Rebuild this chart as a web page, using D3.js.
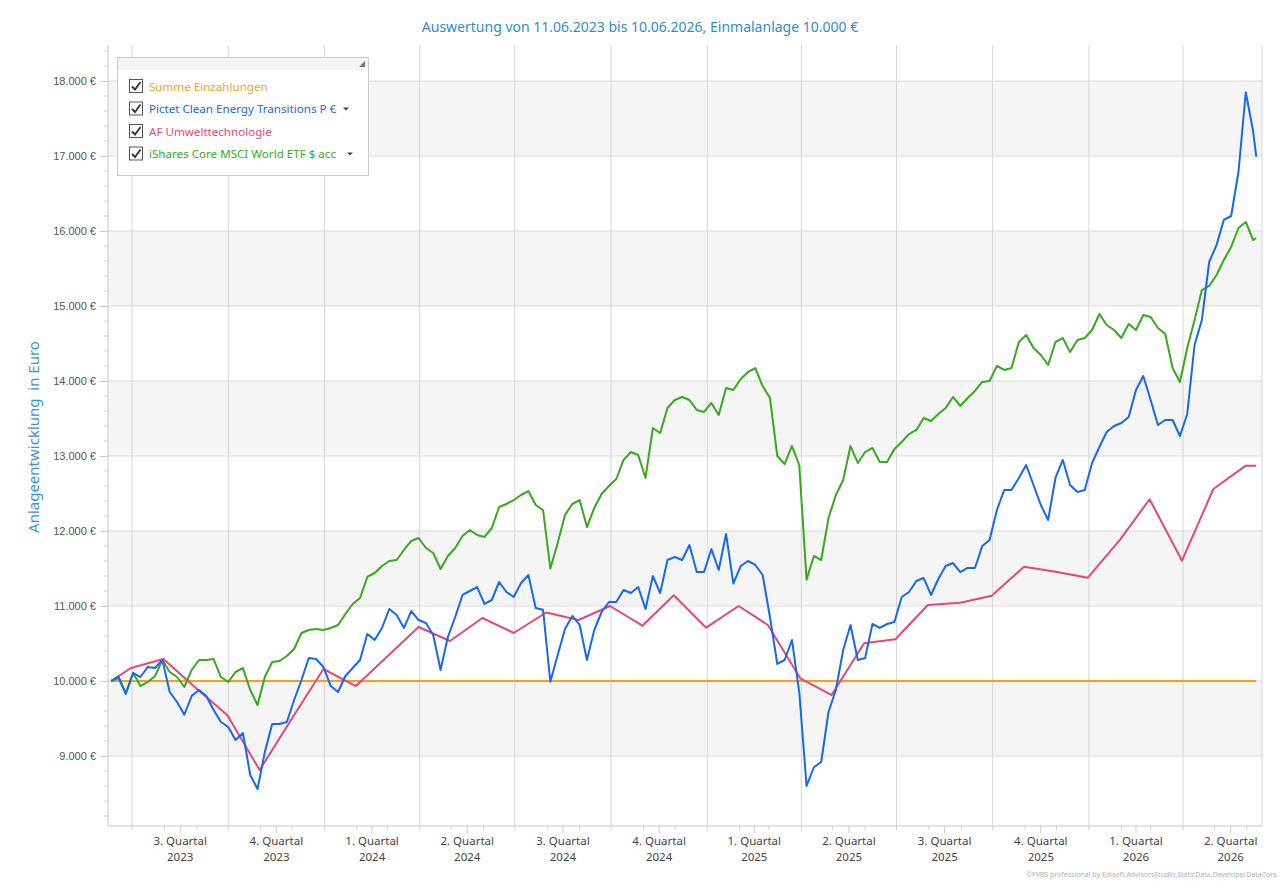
<!DOCTYPE html>
<html lang="de">
<head>
<meta charset="UTF-8">
<title>Anlageentwicklung</title>
<script src="https://d3js.org/d3.v7.min.js"></script>
<style>
  body { margin: 0; background: #fff; }
  svg { display: block; font-family: "Noto Sans", "Open Sans", sans-serif; }
</style>
</head>
<body>
<script>
// ---- data ----
const startDate = "11.06.2023";
const endDate = "10.06.2026";

// Summe Einzahlungen: flat line at the single deposit
const depositDates = ["11.06.2023", "10.06.2026"];
const depositValues = [10000, 10000];

// AF Umwelttechnologie: month-end values
const afDates = ["11.06.2023", "30.06.2023", "31.07.2023", "31.08.2023", "30.09.2023", "31.10.2023",
  "30.11.2023", "31.12.2023", "31.01.2024", "29.02.2024", "31.03.2024", "30.04.2024", "31.05.2024",
  "30.06.2024", "31.07.2024", "31.08.2024", "30.09.2024", "31.10.2024", "30.11.2024", "31.12.2024",
  "31.01.2025", "28.02.2025", "31.03.2025", "30.04.2025", "31.05.2025", "30.06.2025", "31.07.2025",
  "31.08.2025", "30.09.2025", "31.10.2025", "30.11.2025", "31.12.2025", "31.01.2026", "28.02.2026",
  "31.03.2026", "30.04.2026", "31.05.2026", "10.06.2026"];
const afValues = [10000, 10173, 10293, 9907, 9547, 8813,
  9480, 10160, 9933, 10312, 10720, 10533, 10840,
  10640, 10913, 10813, 11000, 10737, 11143, 10711,
  11000, 10747, 10036, 9813, 10503, 10556, 11013,
  11044, 11137, 11524, 11457, 11377, 11889, 12423,
  11604, 12560, 12871, 12871];

// Pictet Clean Energy Transitions P €: weekly values, last one on the end date
const pictetValues = [
  10000, 10060, 9827, 10107, 10053, 10187, 10173, 10280, 9853, 9720,
  9550, 9800, 9880, 9800, 9613, 9453, 9387, 9213, 9307, 8747,
  8560, 9053, 9427, 9427, 9453, 9747, 10013, 10307, 10293, 10187,
  9933, 9853, 10067, 10173, 10280, 10627, 10547, 10707, 10960, 10880,
  10707, 10933, 10813, 10773, 10613, 10147, 10587, 10853, 11147, 11200,
  11253, 11027, 11080, 11320, 11187, 11120, 11307, 11413, 10973, 10950,
  9990, 10347, 10693, 10867, 10747, 10280, 10680, 10920, 11053, 11053,
  11213, 11173, 11253, 10960, 11400, 11173, 11613, 11653, 11613, 11813,
  11453, 11453, 11760, 11480, 11960, 11300, 11533, 11600, 11547, 11413,
  10853, 10227, 10280, 10547, 9853, 8600, 8850, 8920, 9587, 9880,
  10413, 10747, 10280, 10307, 10760, 10707, 10760, 10787, 11120, 11187,
  11333, 11373, 11147, 11360, 11533, 11573, 11453, 11507, 11507, 11800,
  11880, 12280, 12547, 12547, 12707, 12880, 12613, 12347, 12147, 12707,
  12947, 12613, 12520, 12547, 12907, 13120, 13320, 13400, 13440, 13520,
  13880, 14067, 13747, 13413, 13480, 13480, 13267, 13560, 14480, 14813,
  15587, 15813, 16147, 16200, 16787, 17850, 17330,
  16990];

// iShares Core MSCI World ETF $ acc: weekly values, last one on the end date
const isharesValues = [
  10000, 10040, 9840, 10107, 9933, 9987, 10067, 10280, 10120, 10053,
  9920, 10147, 10280, 10280, 10293, 10053, 9987, 10120, 10173, 9880,
  9680, 10053, 10253, 10267, 10333, 10427, 10640, 10680, 10693, 10680,
  10707, 10747, 10893, 11027, 11107, 11387, 11440, 11533, 11600, 11613,
  11747, 11867, 11907, 11773, 11707, 11493, 11667, 11773, 11933, 12013,
  11947, 11920, 12040, 12320, 12360, 12413, 12480, 12533, 12347, 12280,
  11500, 11840, 12213, 12360, 12413, 12053, 12307, 12493, 12600, 12693,
  12947, 13053, 13013, 12707, 13373, 13307, 13640, 13747, 13787, 13747,
  13613, 13587, 13707, 13547, 13907, 13880, 14027, 14120, 14173, 13933,
  13773, 13000, 12893, 13133, 12880, 11350, 11667, 11613, 12173, 12480,
  12680, 13133, 12907, 13053, 13107, 12920, 12920, 13093, 13187, 13293,
  13347, 13507, 13467, 13560, 13640, 13787, 13667, 13773, 13867, 13987,
  14000, 14200, 14147, 14173, 14520, 14613, 14440, 14347, 14213, 14520,
  14573, 14387, 14547, 14573, 14680, 14893, 14747, 14680, 14573, 14760,
  14680, 14880, 14853, 14707, 14627, 14173, 13987, 14440, 14813, 15213,
  15267, 15413, 15613, 15787, 16040, 16120, 15880,
  15907];

const yTickValues = [9000, 10000, 11000, 12000, 13000, 14000, 15000, 16000, 17000, 18000];

const seriesNames = ["Summe Einzahlungen", "Pictet Clean Energy Transitions P €",
  "AF Umwelttechnologie", "iShares Core MSCI World ETF $ acc"];
const seriesColors = ["#f7a11a", "#1767f5", "#e8457c", "#37a91c"];
const dropdownX = [null, 229, null, 233];

// ---- setup ----
const width = 1280, height = 881;
const plot = { left: 108, right: 1262, top: 45, bottom: 826 };
const parse = d3.timeParse("%d.%m.%Y");
const de = d3.formatLocale({ decimal: ",", thousands: ".", grouping: [3], currency: ["", " €"] });
const fmt = de.format(",.0f");

// weekly dates from the start, the last value sits on the end date
const weekDates = d3.range(pictetValues.length - 1).map(i => d3.timeDay.offset(parse(startDate), 7 * i));
weekDates.push(parse(endDate));

const svg = d3.select("body").append("svg")
  .attr("width", width)
  .attr("height", height);

const x = d3.scaleTime()
  .domain([new Date(2023, 5, 8), new Date(2026, 5, 15, 12)])
  .range([plot.left, plot.right]);

const y = d3.scaleLinear()
  .domain([10000 - (plot.bottom - 681) / 0.075, 10000 + (681 - plot.top) / 0.075])
  .range([plot.bottom, plot.top]);

// alternating bands
svg.append("g").selectAll("rect")
  .data([9000, 11000, 13000, 15000, 17000])
  .join("rect")
  .attr("x", plot.left)
  .attr("width", plot.right - plot.left)
  .attr("y", d => y(d + 1000))
  .attr("height", d => y(d) - y(d + 1000))
  .attr("fill", "#f5f5f5");

// horizontal grid
svg.append("g").selectAll("line")
  .data(yTickValues)
  .join("line")
  .attr("x1", plot.left).attr("x2", plot.right)
  .attr("y1", d => y(d)).attr("y2", d => y(d))
  .attr("stroke", "#dadada");

// vertical grid at quarter starts
const quarterStarts = d3.timeMonth.every(3).range(new Date(2023, 6, 1), new Date(2026, 5, 15));
svg.append("g").selectAll("line")
  .data(quarterStarts)
  .join("line")
  .attr("x1", d => x(d)).attr("x2", d => x(d))
  .attr("y1", plot.top).attr("y2", plot.bottom)
  .attr("stroke", "#d6d6d6");

// right frame line
svg.append("line")
  .attr("x1", plot.right).attr("x2", plot.right)
  .attr("y1", plot.top).attr("y2", plot.bottom)
  .attr("stroke", "#d6d6d6");

// y axis
const yAxis = svg.append("g")
  .attr("transform", `translate(${plot.left},0)`)
  .call(d3.axisLeft(y).tickValues(yTickValues).tickSize(8).tickPadding(4)
    .tickFormat(d => fmt(d) + " €"));
yAxis.select(".domain").attr("stroke", "#c8c8c8").attr("d", `M0,${plot.top}V${plot.bottom}`);
yAxis.selectAll(".tick line").attr("stroke", "#c8c8c8");
yAxis.selectAll(".tick text").attr("fill", "#555").style("font-size", "11px");

svg.append("g").selectAll("line")
  .data(d3.range(8200, 18500, 200).filter(v => v % 1000 !== 0))
  .join("line")
  .attr("x1", plot.left - 4).attr("x2", plot.left)
  .attr("y1", d => y(d)).attr("y2", d => y(d))
  .attr("stroke", "#d0d0d0");

// x axis: month ticks + quarter label ticks
svg.append("line")
  .attr("x1", plot.left).attr("x2", plot.right)
  .attr("y1", plot.bottom).attr("y2", plot.bottom)
  .attr("stroke", "#c8c8c8");

svg.append("g").selectAll("line")
  .data(d3.timeMonth.range(new Date(2023, 5, 8), new Date(2026, 5, 15)))
  .join("line")
  .attr("x1", d => x(d)).attr("x2", d => x(d))
  .attr("y1", plot.bottom).attr("y2", plot.bottom + 4)
  .attr("stroke", "#d0d0d0");

const quarterMids = quarterStarts.map(d => new Date((+d + +d3.timeMonth.offset(d, 3)) / 2));
const xLabels = svg.append("g").selectAll("g")
  .data(quarterMids)
  .join("g")
  .attr("transform", d => `translate(${x(d)},${plot.bottom})`);
xLabels.append("line").attr("y2", 7).attr("stroke", "#c8c8c8");
xLabels.append("text")
  .attr("text-anchor", "middle")
  .attr("fill", "#444")
  .style("font-size", "11.5px")
  .selectAll("tspan")
  .data(d => [`${Math.floor(d.getMonth() / 3) + 1}. Quartal`, d.getFullYear()])
  .join("tspan")
  .attr("x", 0)
  .attr("y", (d, i) => 19 + i * 16)
  .text(d => d);

// lines
const line = d3.line()
  .x(d => x(d[0]))
  .y(d => y(d[1]));

const series = [
  { name: seriesNames[0], color: seriesColors[0], points: depositDates.map((d, i) => [parse(d), depositValues[i]]) },
  { name: seriesNames[2], color: seriesColors[2], points: afDates.map((d, i) => [parse(d), afValues[i]]) },
  { name: seriesNames[3], color: seriesColors[3], points: weekDates.map((d, i) => [d, isharesValues[i]]) },
  { name: seriesNames[1], color: seriesColors[1], points: weekDates.map((d, i) => [d, pictetValues[i]]) }
];

svg.append("g").selectAll("path")
  .data(series)
  .join("path")
  .attr("d", d => line(d.points))
  .attr("fill", "none")
  .attr("stroke", d => d.color)
  .attr("stroke-width", 2)
  .attr("stroke-linejoin", "round");

// title
svg.append("text")
  .attr("x", 640).attr("y", 32)
  .attr("text-anchor", "middle")
  .attr("fill", "#2f8bd6")
  .style("font-size", "14px")
  .text(`Auswertung von ${startDate} bis ${endDate}, Einmalanlage ${fmt(10000)} €`);

// y axis title
svg.append("text")
  .attr("transform", "translate(39,437) rotate(-90)")
  .attr("text-anchor", "middle")
  .attr("fill", "#3a92da")
  .style("font-size", "15px")
  .style("white-space", "pre")
  .text("Anlageentwicklung  in Euro");

// legend
const legend = svg.append("g").attr("transform", "translate(117,57)");
legend.append("rect")
  .attr("x", 0.5).attr("y", 0.5)
  .attr("width", 251).attr("height", 118)
  .attr("fill", "#fff")
  .attr("stroke", "#cbcbcb");
legend.append("rect")
  .attr("x", 1).attr("y", 1).attr("width", 250).attr("height", 12)
  .attr("fill", "#f4f4f4");
legend.append("path")
  .attr("d", "M248,4L248,10L242,10Z")
  .attr("fill", "#777");

const items = legend.selectAll(".item")
  .data(seriesNames)
  .join("g")
  .attr("class", "item")
  .attr("transform", (d, i) => `translate(0,${29 + i * 22.5})`);
items.append("rect")
  .attr("x", 12.5).attr("y", -6.5)
  .attr("width", 13).attr("height", 13)
  .attr("fill", "#fff")
  .attr("stroke", "#555");
items.append("path")
  .attr("d", "M15,0.5L18,3.5L23.5,-4")
  .attr("fill", "none")
  .attr("stroke", "#333")
  .attr("stroke-width", 1.8);
items.append("text")
  .attr("x", 32).attr("y", 4.5)
  .attr("fill", (d, i) => seriesColors[i])
  .style("font-size", "11.6px")
  .text(d => d);
items.filter((d, i) => dropdownX[i] !== null)
  .append("path")
  .attr("d", d => {
    const cx = dropdownX[seriesNames.indexOf(d)];
    return `M${cx - 3},-1L${cx + 3},-1L${cx},2Z`;
  })
  .attr("fill", "#444");

// credit line
svg.append("text")
  .attr("x", 1277).attr("y", 877)
  .attr("text-anchor", "end")
  .attr("fill", "#b0b0b0")
  .style("font-size", "7px")
  .text("©FVBS professional by Edisoft.AdvisorsStudio.StaticData.DeveloperDataCore");
</script>
</body>
</html>
